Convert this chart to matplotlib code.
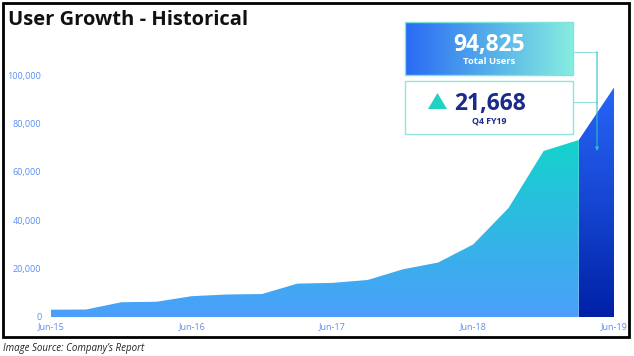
import numpy as np
import matplotlib
matplotlib.use("Agg")
import matplotlib.pyplot as plt
from matplotlib.colors import LinearSegmentedColormap
from matplotlib.patches import Rectangle, Polygon

plt.rcParams['font.family'] = ['Open Sans', 'DejaVu Sans']

# quarterly users, Jun-15 .. Jun-19
quarters = ["Jun-15", "Sep-15", "Dec-15", "Mar-16",
            "Jun-16", "Sep-16", "Dec-16", "Mar-17",
            "Jun-17", "Sep-17", "Dec-17", "Mar-18",
            "Jun-18", "Sep-18", "Dec-18", "Mar-19",
            "Jun-19"]
users = [3000, 3100, 6100, 6300,
         8600, 9300, 9500, 13800,
         14100, 15300, 19700, 22500,
         30000, 45000, 68600, 73157,
         94825]
y_ticks = [0, 20000, 40000, 60000, 80000, 100000]

W, H = 634, 356
fig = plt.figure(figsize=(W / 100, H / 100), dpi=100)
fig.patch.set_facecolor("white")

# main plot area in pixel terms
x0, x1 = 51, 614
yb, yt = 317, 75
ax = fig.add_axes([x0 / W, (H - yb) / H, (x1 - x0) / W, (yb - yt) / H])
for s in ax.spines.values():
    s.set_visible(False)
ax.tick_params(length=0, colors="#5b8ef0", labelsize=6.5)
ax.tick_params(axis="y", pad=7)
ax.tick_params(axis="x", pad=4)
ax.set_yticks(y_ticks)
ax.set_yticklabels([f"{v:,}" for v in y_ticks])
xt = [i for i, q in enumerate(quarters) if q.startswith("Jun")]
ax.set_xticks(xt)
ax.set_xticklabels([quarters[i] for i in xt])
ax.set_facecolor("none")

xs = np.arange(len(quarters))
n = len(quarters)

# history area with vertical gradient
hist = ax.fill_between(xs[:n - 1], 0, users[:n - 1], color="none", lw=0)
cm1 = LinearSegmentedColormap.from_list("h", ["#4c9ffb", "#30b8e4", "#14d3cc"])
grad = np.linspace(0, 1, 256).reshape(-1, 1)
im = ax.imshow(grad, cmap=cm1, origin="lower", aspect="auto",
               extent=[0, n - 2, 0, users[n - 2]], zorder=1)
im.set_clip_path(hist.get_paths()[0], transform=ax.transData)

# latest quarter
last = ax.fill_between(xs[n - 2:], 0, users[n - 2:], color="none", lw=0)
cm2 = LinearSegmentedColormap.from_list("l", ["#0020a6", "#1646d2", "#2765f7"])
im2 = ax.imshow(grad, cmap=cm2, origin="lower", aspect="auto",
                extent=[n - 2, n - 1, 0, users[-1]], zorder=1)
im2.set_clip_path(last.get_paths()[0], transform=ax.transData)
ax.set_xlim(0, n - 1)
ax.set_ylim(0, 100000)

# overlay in pixel coords
ov = fig.add_axes([0, 0, 1, 1], zorder=5)
ov.axis("off")
ov.patch.set_alpha(0)

ov.add_patch(Rectangle((3, 3), 626, 334, fill=False, ec="black", lw=2))
ov.text(8, 25, "User Growth - Historical", fontsize=14.5, fontweight="bold",
        color="#111111", ha="left", va="baseline")
ov.text(3, 348, "Image Source: Company\u2019s Report", fontsize=7,
        style="italic", color="#222222", ha="left", va="center")

# total users box, horizontal gradient
bx, bw = 405, 168
hgrad = np.linspace(0, 1, 256).reshape(1, -1)
cm3 = LinearSegmentedColormap.from_list("b", ["#2a6af5", "#55aee9", "#86ede0"])
ov.imshow(hgrad, cmap=cm3, aspect="auto", extent=[bx, bx + bw, 75, 22], zorder=2)
ov.add_patch(Rectangle((bx, 22), bw, 53, fill=False, ec="#7fe3dc", lw=1, zorder=3))
ov.text(bx + bw / 2, 51, f"{users[-1]:,}", fontsize=16.5, fontweight="bold",
        color="white", ha="center", va="baseline", zorder=4)
ov.text(bx + bw / 2, 62, "Total Users", fontsize=6.8, fontweight="bold",
        color="white", ha="center", va="center", zorder=4)

# quarter growth box
ov.add_patch(Rectangle((bx, 81), bw, 53, fc="white", ec="#8fe3e0", lw=1, zorder=3))
ov.add_patch(Polygon([[428, 109], [447, 109], [437.5, 93]], closed=True,
                     fc="#1fd3c0", ec="none", zorder=4))
ov.text(490, 110, f"{users[-1] - users[-2]:,}", fontsize=16.5, fontweight="bold",
        color="#1a2b8c", ha="center", va="baseline", zorder=4)
ov.text(489, 121, "Q4 FY19", fontsize=6.3, fontweight="bold",
        color="#1a2b8c", ha="center", va="center", zorder=4)

# connectors
lc = "#8fdfe0"
ov.plot([bx + bw, 597], [52, 52], color=lc, lw=0.8, zorder=3)
ov.plot([bx + bw, 597], [102, 102], color=lc, lw=0.8, zorder=3)
ov.annotate("", xy=(597, 151), xytext=(597, 52),
            arrowprops=dict(arrowstyle="-|>", color="#2bbfc7", lw=0.8,
                            mutation_scale=5, shrinkA=0, shrinkB=0), zorder=3)
ov.set_xlim(0, W)
ov.set_ylim(H, 0)

fig.savefig("out.png", dpi=100)
